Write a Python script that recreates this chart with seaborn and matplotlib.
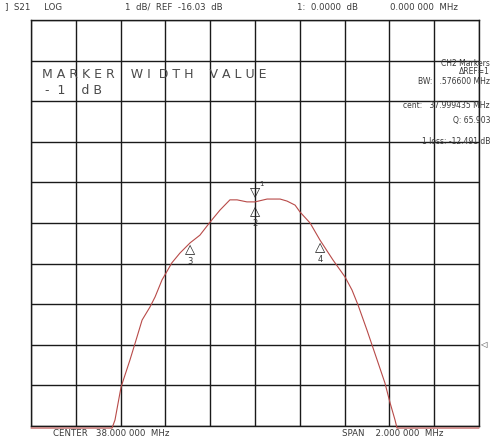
import matplotlib
matplotlib.use("Agg")
import numpy as np
import pandas as pd
import seaborn as sns
from matplotlib import pyplot as plt

# trace (MHz, dB)
freq_mhz = [37.000, 37.362, 37.375, 37.402, 37.442, 37.473, 37.496, 37.531, 37.554,
            37.585, 37.603, 37.629, 37.665, 37.710, 37.754, 37.799, 37.844, 37.888,
            37.920, 37.964, 38.000, 38.054, 38.112, 38.143, 38.179, 38.201, 38.246,
            38.290, 38.348, 38.402, 38.433, 38.460, 38.500, 38.545, 38.580, 38.603,
            38.625, 38.634, 39.000]
s21_db = [-18.08, -18.08, -17.88, -17.07, -16.40, -15.84, -15.42, -15.10, -14.85,
          -14.43, -14.26, -14.01, -13.77, -13.52, -13.33, -13.01, -12.71, -12.46,
          -12.46, -12.51, -12.51, -12.44, -12.44, -12.49, -12.59, -12.76, -13.03,
          -13.45, -13.94, -14.36, -14.68, -15.05, -15.67, -16.40, -16.97, -17.46,
          -17.88, -18.08, -18.08]

# markers (number, freq, dB at apex)
marker_ids = ["2", "3", "4"]
marker_freq = [38.000, 37.710, 38.290]
marker_db = [-12.58, -13.52, -13.48]

ref_db = -16.03
db_per_div = 1.0
center = 38.0
span = 2.0

sns.set_style("white")
plt.rcParams["font.family"] = ["DejaVu Sans"]

fig = plt.figure(figsize=(4.94, 4.41), dpi=100)
ax = fig.add_axes([31 / 494, 1 - 426 / 441, 448 / 494, 406 / 441])

df = pd.DataFrame({"f": freq_mhz, "db": s21_db})
sns.lineplot(data=df, x="f", y="db", ax=ax, color="#b84a48", lw=0.8,
             estimator=None, sort=False, clip_on=False, zorder=3)

top = ref_db + 8 * db_per_div
bottom = ref_db - 2 * db_per_div
ax.set_xlim(center - span / 2, center + span / 2)
ax.set_ylim(bottom, top)
ax.set_xticks(np.linspace(center - span / 2, center + span / 2, 11))
ax.set_yticks(np.linspace(bottom, top, 11))
ax.grid(True, color="#1a1a1a", lw=1.0)
ax.tick_params(length=0, labelbottom=False, labelleft=False)
ax.set_xlabel("")
ax.set_ylabel("")
for sp in ax.spines.values():
    sp.set_color("#1a1a1a")
    sp.set_linewidth(1.0)

tc = "#3a3a3a"
# marker triangles
for mid, f, d in zip(marker_ids, marker_freq, marker_db):
    ax.annotate("△", (f, d), xytext=(0, 0), textcoords="offset points",
                ha="center", va="top", fontsize=9.5, color="#222222", zorder=4)
    ax.annotate(mid, (f, d), xytext=(0, -10), textcoords="offset points",
                ha="center", va="top", fontsize=6, color=tc, zorder=4)
# marker 1 above the peak
ax.annotate("▽", (38.0, -12.44), xytext=(0, 0), textcoords="offset points",
            ha="center", va="bottom", fontsize=9.5, color="#222222", zorder=4)
ax.annotate("1", (38.0, -12.44), xytext=(3, 9), textcoords="offset points",
            ha="left", va="bottom", fontsize=5, color=tc, zorder=4)
# reference position indicator
ax.annotate("◁", (1, ref_db), xycoords=("axes fraction", "data"), xytext=(1, 0),
            textcoords="offset points", ha="left", va="center", fontsize=6,
            color=tc, annotation_clip=False)

# header / footer text
fs = 6.2
fig.text(5 / 494, 1 - 7 / 441, "]  S21     LOG", fontsize=fs, color=tc, va="center")
fig.text(125 / 494, 1 - 7 / 441, "1  dB/  REF  -16.03  dB", fontsize=fs, color=tc, va="center")
fig.text(297 / 494, 1 - 7 / 441, "1:  0.0000  dB", fontsize=fs, color=tc, va="center")
fig.text(390 / 494, 1 - 7 / 441, "0.000 000  MHz", fontsize=fs, color=tc, va="center")
fig.text(53 / 494, 1 - 434 / 441, "CENTER   38.000 000  MHz", fontsize=fs, color=tc, va="center")
fig.text(342 / 494, 1 - 434 / 441, "SPAN    2.000 000  MHz", fontsize=fs, color=tc, va="center")

fig.text(42 / 494, 1 - 75 / 441, "M A R K E R    W I  D T H    V A L U E",
         fontsize=9, color="#4a4a4a", va="center")
fig.text(45 / 494, 1 - 91 / 441, "-  1    d B", fontsize=9, color="#4a4a4a", va="center")

rx = 490 / 494
fig.text(rx, 1 - 63 / 441, "CH2 Markers", fontsize=5.5, color=tc, ha="right", va="center")
fig.text(rx, 1 - 72 / 441, "ΔREF=1", fontsize=5.5, color=tc, ha="right", va="center")
fig.text(rx, 1 - 82 / 441, "BW:   .576600 MHz", fontsize=5.5, color=tc, ha="right", va="center")
fig.text(rx, 1 - 105 / 441, "cent:   37.999435 MHz", fontsize=5.5, color=tc, ha="right", va="center")
fig.text(rx, 1 - 121 / 441, "Q: 65.903", fontsize=5.5, color=tc, ha="right", va="center")
fig.text(rx, 1 - 141 / 441, "1 loss: -12.491 dB", fontsize=5.5, color=tc, ha="right", va="center")

fig.savefig("out.png", dpi=100)
